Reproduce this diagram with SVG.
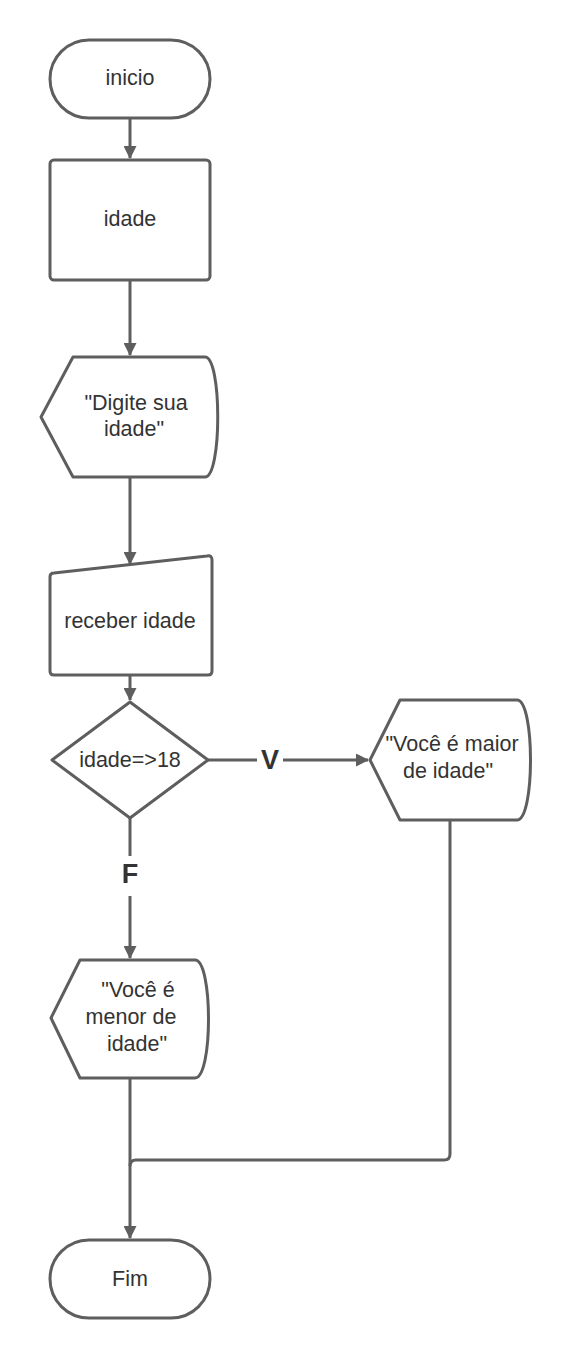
<svg xmlns="http://www.w3.org/2000/svg" width="570" height="1360" viewBox="0 0 570 1360">
<style>
.s{fill:#fff;stroke:#5e5e5e;stroke-width:3;stroke-linejoin:round}
.c{fill:none;stroke:#5e5e5e;stroke-width:3}
.t{font-family:"Liberation Sans",Arial,sans-serif;font-size:21.5px;fill:#333;text-anchor:middle}
.b{font-family:"Liberation Sans",Arial,sans-serif;font-size:27px;font-weight:bold;fill:#333;text-anchor:middle}
</style>
<defs>
<marker id="a" markerWidth="13" markerHeight="13" viewBox="0 0 13 13" refX="12" refY="6.5" orient="auto" markerUnits="userSpaceOnUse">
<path d="M0,0 L13,6.5 L0,13 Z" fill="#5e5e5e"/>
</marker>
</defs>
<rect width="570" height="1360" fill="#fff"/>
<g id="connectors">
<line class="c" x1="130" y1="118" x2="130" y2="158" marker-end="url(#a)"/>
<line class="c" x1="130" y1="280" x2="130" y2="355" marker-end="url(#a)"/>
<line class="c" x1="130" y1="477" x2="130" y2="564" marker-end="url(#a)"/>
<line class="c" x1="130" y1="675" x2="130" y2="700" marker-end="url(#a)"/>
<line class="c" x1="208" y1="760" x2="257" y2="760"/>
<line class="c" x1="283" y1="760" x2="368" y2="760" marker-end="url(#a)"/>
<text class="b" x="270" y="769">V</text>
<line class="c" x1="130" y1="818" x2="130" y2="856"/>
<line class="c" x1="130" y1="896" x2="130" y2="958" marker-end="url(#a)"/>
<text class="b" x="130" y="883">F</text>
<path class="c" d="M450 818 V1154 Q450 1160 444 1160 H136 Q130 1160 130 1166"/>
<line class="c" x1="130" y1="1078" x2="130" y2="1238" marker-end="url(#a)"/>
</g>
<g id="inicio">
<rect class="s" x="50" y="40" width="160" height="78" rx="39"/>
<text class="t" x="130" y="85">inicio</text>
</g>
<g id="idade">
<rect class="s" x="50" y="160" width="160" height="120" rx="4"/>
<text class="t" x="130" y="226">idade</text>
</g>
<g id="digite">
<path class="s" d="M41 417 L73 357 H205 C222 357 222 477 205 477 H73 Z"/>
<text class="t" x="136" y="410">"Digite sua</text>
<text class="t" x="134" y="436">idade"</text>
</g>
<g id="receber">
<path class="s" d="M54 573 L207 556 Q212 555 212 560 V671 Q212 675 208 675 H54 Q50 675 50 671 V577 Q50 573 54 573 Z"/>
<text class="t" x="130" y="628">receber idade</text>
</g>
<g id="decisao">
<path class="s" d="M130 702 L208 760 L130 818 L52 760 Z"/>
<text class="t" x="130" y="767">idade=&gt;18</text>
</g>
<g id="maior">
<path class="s" d="M370 760 L400 700 H517 C535 700 535 820 517 820 H400 Z"/>
<text class="t" x="452" y="751">"Você é maior</text>
<text class="t" x="448" y="778">de idade"</text>
</g>
<g id="menor">
<path class="s" d="M51 1018 L80 960 H195 C213 960 213 1078 195 1078 H80 Z"/>
<text class="t" x="138" y="997">"Você é</text>
<text class="t" x="131" y="1024">menor de</text>
<text class="t" x="137" y="1051">idade"</text>
</g>
<g id="fim">
<rect class="s" x="50" y="1240" width="160" height="78" rx="39"/>
<text class="t" x="130" y="1286">Fim</text>
</g>
</svg>
